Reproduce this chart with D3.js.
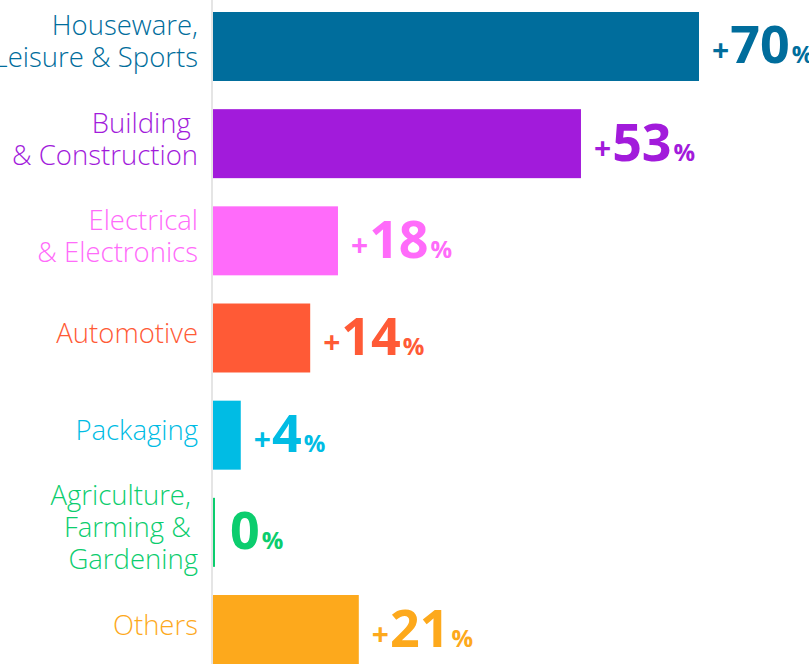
<!DOCTYPE html>
<html>
<head>
<meta charset="utf-8">
<script src="https://cdn.jsdelivr.net/npm/d3@7"></script>
<style>
  html, body { margin: 0; padding: 0; background: #fff; }
  svg { display: block; }
  text { font-family: "Open Sans", Lato, sans-serif; }
</style>
</head>
<body>
<svg width="809" height="664"></svg>
<script>
var categories = ["Houseware, Leisure & Sports", "Building & Construction", "Electrical & Electronics",
    "Automotive", "Packaging", "Agriculture, Farming & Gardening", "Others"];
var labelLines = [
    ["Houseware,", "Leisure & Sports"],
    ["Building ", "& Construction"],
    ["Electrical", "& Electronics"],
    ["Automotive"],
    ["Packaging"],
    ["Agriculture, ", "Farming & ", "Gardening"],
    ["Others"]
];
var values = [70, 53, 18, 14, 4, 0, 21];
var colors = ["#006d9c", "#a21bdb", "#ff6bfa", "#ff5a36", "#00bce4", "#0ccd6e", "#fda91c"];

var svg = d3.select("svg"),
    width = +svg.attr("width"),
    height = +svg.attr("height");

var y = d3.scaleBand()
    .domain(categories)
    .range([12, 664])
    .paddingInner(0.29)
    .paddingOuter(0);

var x = d3.scaleLinear()
    .domain([0, 70])
    .range([213, 699]);

// grey baseline
svg.append("line")
    .attr("x1", 212).attr("x2", 212)
    .attr("y1", 0).attr("y2", height)
    .attr("stroke", "#dcdcdc")
    .attr("stroke-width", 1.5);

var rows = svg.selectAll("g.row")
    .data(categories)
    .enter().append("g")
    .attr("class", "row");

rows.append("rect")
    .attr("x", x(0))
    .attr("y", function (d) { return y(d); })
    .attr("height", y.bandwidth())
    .attr("width", function (d, i) { return Math.max(2, x(values[i]) - x(0)); })
    .attr("fill", function (d, i) { return colors[i]; });

// category labels, right aligned
var lineH = 32;
rows.append("text")
    .attr("text-anchor", "end")
    .attr("font-size", 27.5)
    .attr("font-weight", 300)
    .attr("fill", function (d, i) { return colors[i]; })
    .style("white-space", "pre")
    .each(function (d, i) {
        var lines = labelLines[i];
        var cy = y(d) + y.bandwidth() / 2;
        var first = cy - (lines.length - 1) * lineH / 2 + 5;
        d3.select(this).selectAll("tspan")
            .data(lines)
            .enter().append("tspan")
            .attr("x", 198)
            .attr("y", function (l, j) { return first + j * lineH; })
            .text(function (l) { return l; });
    });

// value labels
rows.append("text")
    .attr("font-weight", 700)
    .attr("fill", function (d, i) { return colors[i]; })
    .attr("x", function (d, i) { return x(values[i]) + (values[i] > 0 ? 13 : 16); })
    .attr("y", function (d) { return y(d) + y.bandwidth() / 2 + 17; })
    .each(function (d, i) {
        var t = d3.select(this);
        if (values[i] > 0) {
            t.append("tspan").attr("font-size", 30).attr("dy", -2).text("+");
        }
        t.append("tspan").attr("font-size", 52).attr("dx", 1)
            .attr("dy", values[i] > 0 ? 2 : 0).text(values[i]);
        t.append("tspan").attr("font-size", 24).attr("dx", 2).text("%");
    });
</script>
</body>
</html>
